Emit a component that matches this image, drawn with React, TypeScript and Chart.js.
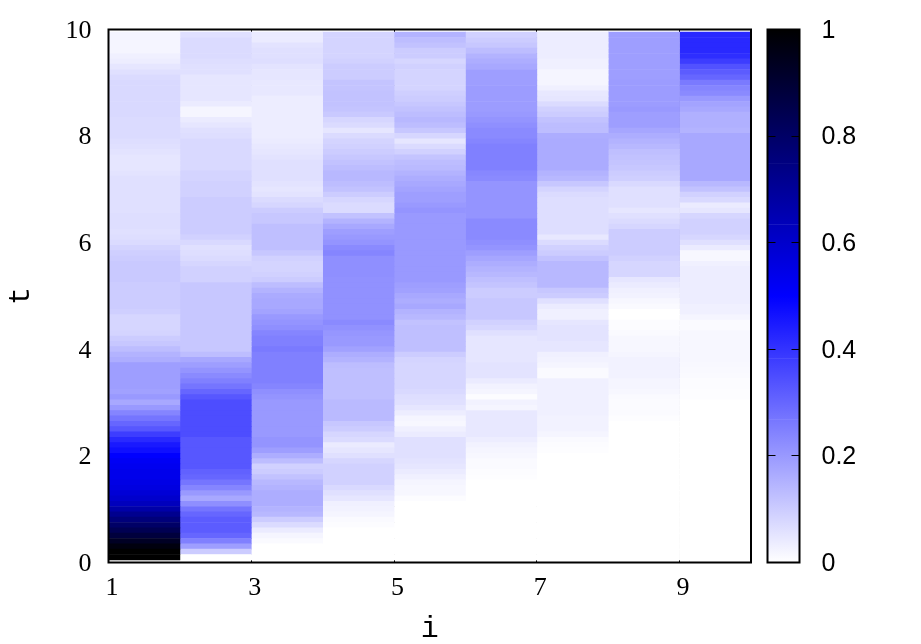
import React, { useEffect, useRef } from "react";
import { Chart, registerables } from "chart.js";

Chart.register(...registerables);

// Column values, top row (t = 9.9) first, down to t = 0.1
const col1 = [
  .02, .02, .02, .02, .03, .035, .05, .06, .07, .075,
  .075, .075, .075, .075, .075, .075, .07, .07, .07, .07,
  .065, .06, .055, .05, .05, .05, .055, .06, .06, .06,
  .06, .06, .06, .06, .065, .065, .065, .06, .065, .07,
  .085, .095, .1, .105, .105, .105, .105, .1, .1, .1,
  .1, .1, .095, .08, .08, .08, .085, .1, .11, .13,
  .15, .16, .19, .19, .19, .19, .19, .185, .2, .17,
  .2, .24, .27, .3, .33, .38, .42, .45, .47, .5,
  .52, .53, .54, .54, .55, .56, .58, .6, .63, .67,
  .72, .76, .8, .84, .88, .93, .97, 1, 1,
];
const col2 = [
  .06, .07, .07, .07, .07, .065, .06, .06, .05, .05,
  .05, .05, .05, .04, .02, .02, .04, .05, .06, .065,
  .075, .075, .075, .075, .075, .075, .085, .085, .09, .09,
  .09, .1, .1, .1, .1, .1, .1, .1, .09, .075,
  .06, .065, .07, .08, .09, .09, .09, .11, .11, .11,
  .11, .11, .11, .11, .11, .11, .11, .11, .11, .11,
  .13, .17, .19, .21, .23, .25, .27, .3, .33, .35,
  .35, .35, .35, .35, .35, .35, .33, .33, .33, .33,
  .33, .33, .31, .3, .27, .24, .2, .17, .22, .27,
  .3, .32, .32, .32, .3, .25, .19, .1, 0,
];
const col3 = [
  .04, .04, .055, .06, .06, .065, .055, .05, .05, .045,
  .045, .045, .035, .035, .035, .035, .035, .035, .035, .035,
  .04, .045, .05, .055, .06, .06, .06, .06, .055, .05,
  .055, .07, .08, .1, .11, .11, .125, .125, .125, .125,
  .125, .11, .09, .085, .085, .09, .1, .13, .15, .165,
  .17, .17, .18, .2, .21, .22, .24, .25, .25, .26,
  .25, .25, .25, .25, .25, .25, .24, .22, .21, .2,
  .2, .2, .2, .2, .2, .2, .21, .21, .19, .16,
  .13, .09, .1, .12, .14, .15, .16, .16, .16, .15,
  .14, .1, .07, .04, .02, .01, 0, 0, 0,
];
const col4 = [
  .085, .085, .085, .085, .085, .09, .1, .1, .1, .115,
  .115, .12, .12, .12, .115, .105, .08, .07, .05, .07,
  .085, .09, .1, .11, .12, .13, .14, .14, .13, .12,
  .1, .08, .07, .07, .12, .15, .17, .19, .2, .21,
  .23, .24, .22, .22, .22, .22, .215, .215, .215, .215,
  .215, .215, .215, .215, .23, .215, .205, .2, .2, .185,
  .16, .15, .13, .125, .125, .125, .125, .125, .125, .135,
  .135, .135, .135, .11, .1, .08, .07, .04, .05, .06,
  .08, .09, .09, .09, .09, .075, .06, .05, .03, .025,
  .02, .01, .005, 0, 0, 0, 0, 0, 0,
];
const col5 = [
  .15, .13, .12, .1, .1, .08, .09, .085, .085, .085,
  .085, .095, .1, .11, .12, .13, .14, .13, .11, .08,
  .05, .07, .09, .115, .13, .135, .15, .16, .17, .18,
  .19, .19, .2, .21, .2, .2, .2, .2, .2, .2,
  .2, .2, .2, .2, .2, .2, .2, .19, .185, .17,
  .16, .17, .15, .14, .12, .125, .125, .125, .125, .125,
  .1, .085, .08, .08, .08, .08, .08, .075, .065, .06,
  .05, .035, .02, .015, .03, .04, .06, .06, .06, .06,
  .055, .05, .04, .03, .02, .015, .015, .005, 0, 0,
  0, 0, 0, 0, 0, 0, 0, 0, 0,
];
const col6 = [
  .09, .1, .11, .13, .15, .16, .17, .19, .19, .19,
  .195, .195, .195, .195, .195, .2, .21, .22, .23, .23,
  .24, .25, .25, .25, .25, .25, .235, .23, .21, .21,
  .21, .21, .21, .21, .21, .23, .23, .23, .23, .22,
  .21, .19, .175, .16, .15, .14, .125, .115, .1, .1,
  .11, .11, .11, .11, .09, .08, .06, .05, .05, .05,
  .05, .05, .055, .055, .055, .04, .025, .02, .005, .025,
  .02, .045, .045, .045, .045, .045, .035, .025, .02, .015,
  .01, .01, .005, .003, 0, 0, 0, 0, 0, 0,
  0, 0, 0, 0, 0, 0, 0, 0, 0,
];
const col7 = [
  .035, .035, .035, .035, .035, .03, .03, .02, .02, .02,
  .03, .045, .05, .07, .09, .1, .12, .13, .13, .16,
  .165, .165, .165, .165, .165, .165, .15, .14, .11, .085,
  .07, .065, .065, .065, .065, .065, .065, .065, .045, .07,
  .09, .1, .12, .14, .14, .14, .14, .14, .11, .1,
  .06, .04, .03, .03, .05, .055, .055, .055, .05, .05,
  .03, .025, .02, .01, .01, .03, .03, .03, .03, .03,
  .03, .03, .025, .025, .025, .02, .01, .005, .003, 0,
  0, 0, 0, 0, 0, 0, 0, 0, 0, 0,
  0, 0, 0, 0, 0, 0, 0, 0, 0,
];
const col8 = [
  .19, .19, .19, .19, .19, .19, .19, .19, .19, .195,
  .195, .195, .195, .195, .2, .19, .19, .19, .175, .16,
  .15, .14, .125, .12, .115, .11, .1, .095, .075, .06,
  .06, .06, .06, .05, .06, .07, .08, .1, .1, .1,
  .1, .1, .09, .08, .08, .08, .05, .04, .03, .025,
  .015, .01, 0, 0, .005, .005, .01, .015, .015, .015,
  .02, .025, .025, .025, .025, .02, .02, .015, .01, .008,
  .008, .008, .003, 0, 0, 0, 0, 0, 0, 0,
  0, 0, 0, 0, 0, 0, 0, 0, 0, 0,
  0, 0, 0, 0, 0, 0, 0, 0, 0,
];
const col9 = [
  .42, .42, .42, .42, .41, .38, .34, .32, .3, .26,
  .24, .23, .2, .18, .17, .155, .155, .155, .15, .17,
  .17, .17, .17, .17, .17, .17, .17, .17, .14, .12,
  .09, .075, .04, .05, .08, .09, .09, .09, .08, .06,
  .04, .015, .015, .03, .035, .035, .035, .035, .035, .035,
  .035, .03, .03, .02, .01, .01, .015, .015, .015, .015,
  .015, .015, .013, .012, .01, .005, .005, .003, .003, 0,
  0, 0, 0, 0, 0, 0, 0, 0, 0, 0,
  0, 0, 0, 0, 0, 0, 0, 0, 0, 0,
  0, 0, 0, 0, 0, 0, 0, 0, 0,
];

const columnStarts = [1, 2, 3, 4, 5, 6, 7, 8, 9];
const columns = [col1, col2, col3, col4, col5, col6, col7, col8, col9];
const rowTimes = col1.map((_, k) => 9.9 - k * 0.1);
const xTicks = [1, 3, 5, 7, 9];
const yTicks = [0, 2, 4, 6, 8, 10];
const barTicks = [0, 0.2, 0.4, 0.6, 0.8, 1];
const barSeams = [0.268, 0.383, 0.634, 0.748];
const yTitle = "t";
const xTitle = "i";

const rgbOf = (v: number) => {
  if (v <= 0.5) {
    const c = Math.round(255 * (1 - v / 0.5));
    return [c, c, 255];
  }
  return [0, 0, Math.round(255 * (1 - (v - 0.5) / 0.5))];
};
const shade = (v: number) => `rgb(${rgbOf(v).join(",")})`;
const seamShade = (v: number) =>
  `rgb(${rgbOf(v).map((c) => Math.round(c + (255 - c) * 0.1)).join(",")})`;

const framePlugin = {
  id: "frame",
  afterDatasetsDraw(chart: any) {
    const { ctx, chartArea: a } = chart;
    ctx.save();
    ctx.strokeStyle = "#000";
    ctx.lineWidth = 2;
    ctx.strokeRect(a.left, a.top, a.right - a.left, a.bottom - a.top);
    ctx.restore();
  },
};

const setTicks = (values: number[]) => (s: any) => {
  s.ticks = values.map((value) => ({ value }));
};

const canvasStyle: React.CSSProperties = { position: "absolute", left: 0, top: 0 };

export default function App() {
  const mainRef = useRef<HTMLCanvasElement>(null);
  const barRef = useRef<HTMLCanvasElement>(null);

  useEffect(() => {
    const main = new Chart(mainRef.current!, {
      type: "bar",
      data: {
        datasets: columns.map((col, c) => ({
          data: col.map((_, k) => ({
            x: columnStarts[c] + 0.5,
            y: [rowTimes[k] - 0.05, rowTimes[k] + 0.05],
          })),
          backgroundColor: col.map(shade),
          borderWidth: 0,
          grouped: false,
          barPercentage: 1,
          categoryPercentage: 1,
        })),
      } as any,
      options: {
        responsive: false,
        animation: false,
        events: [],
        layout: { padding: { left: 0, top: 29.5, right: 170, bottom: 0 } },
        plugins: { legend: { display: false }, tooltip: { enabled: false } },
        scales: {
          x: {
            type: "linear",
            min: 1,
            max: 10,
            offset: false,
            afterBuildTicks: setTicks(xTicks),
            afterFit: (s: any) => {
              s.height = 81.5;
              s.paddingLeft = 0;
              s.paddingRight = 0;
            },
            grid: { color: "#000", lineWidth: 1, drawTicks: false, offset: false },
            border: { display: false },
            title: {
              display: true,
              text: xTitle,
              color: "#000",
              font: { family: "Liberation Mono", size: 30 },
              padding: { top: 0, bottom: -3 },
            },
            ticks: {
              maxRotation: 0,
              autoSkip: false,
              color: "#000",
              padding: 10,
              labelOffset: 3.5,
              font: { family: "Liberation Serif", size: 26 },
            },
          },
          y: {
            type: "linear",
            min: 0,
            max: 10,
            afterBuildTicks: setTicks(yTicks),
            afterFit: (s: any) => {
              s.width = 108.5;
              s.paddingTop = 0;
              s.paddingBottom = 0;
            },
            grid: { display: false },
            border: { display: false },
            title: {
              display: true,
              text: yTitle,
              color: "#000",
              font: { family: "Liberation Mono", size: 30 },
              padding: { top: 3, bottom: 0 },
            },
            ticks: {
              color: "#000",
              padding: 9,
              labelOffset: 1.5,
              font: { family: "Liberation Serif", size: 26 },
            },
          },
        },
      },
      plugins: [framePlugin],
    } as any);

    const bar = new Chart(barRef.current!, {
      type: "bar",
      data: {
        labels: [""],
        datasets: [
          {
            data: [[0, 1]],
            borderWidth: 0,
            barPercentage: 1,
            categoryPercentage: 1,
            backgroundColor: (ctx: any) => {
              const area = ctx.chart.chartArea;
              if (!area) return "#00f";
              const g = ctx.chart.ctx.createLinearGradient(0, area.bottom, 0, area.top);
              g.addColorStop(0, "#fff");
              g.addColorStop(0.5, "#00f");
              g.addColorStop(1, "#000");
              barSeams.forEach((v) => {
                g.addColorStop(v - 0.001, shade(v - 0.001));
                g.addColorStop(v, seamShade(v));
                g.addColorStop(v + 0.001, shade(v + 0.001));
              });
              return g;
            },
          },
        ],
      } as any,
      options: {
        responsive: false,
        animation: false,
        events: [],
        layout: { padding: { left: 767.5, top: 29.5, right: 0, bottom: 81.5 } },
        plugins: { legend: { display: false }, tooltip: { enabled: false } },
        scales: {
          x: { display: false },
          y: {
            position: "right",
            type: "linear",
            min: 0,
            max: 1,
            afterBuildTicks: setTicks(barTicks),
            afterFit: (s: any) => {
              s.width = 121.5;
              s.paddingTop = 0;
              s.paddingBottom = 0;
            },
            grid: { color: "#000", lineWidth: 1, drawTicks: false, z: 1 },
            border: { display: false, dash: [8, 16] },
            ticks: {
              color: "#000",
              padding: 22,
              labelOffset: 1.5,
              font: { family: "Liberation Sans", size: 25 },
              callback: (v: any) => String(v),
            },
          },
        },
      },
      plugins: [framePlugin],
    } as any);

    return () => {
      main.destroy();
      bar.destroy();
    };
  }, []);

  return (
    <div style={{ position: "absolute", left: 0, top: 0, width: 921, height: 644, background: "#fff" }}>
      <canvas ref={mainRef} width={921} height={644} style={canvasStyle} />
      <canvas ref={barRef} width={921} height={644} style={canvasStyle} />
    </div>
  );
}
